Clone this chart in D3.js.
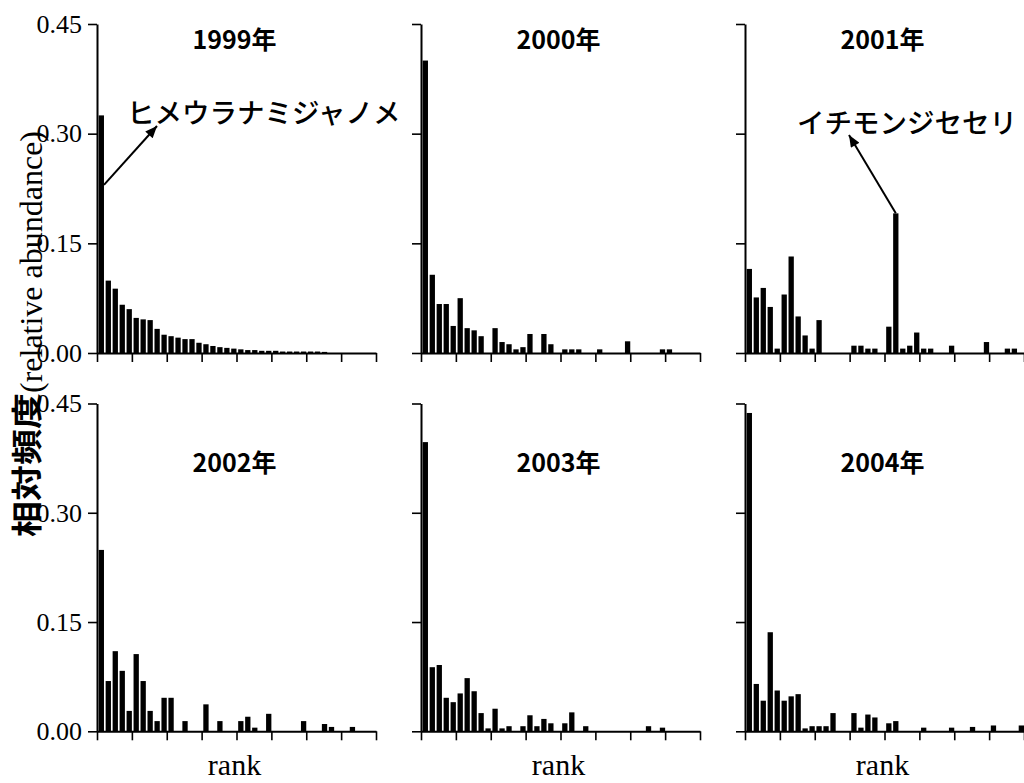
<!DOCTYPE html>
<html><head><meta charset="utf-8">
<script src="https://cdn.jsdelivr.net/npm/d3@7"></script>
<style>html,body{margin:0;padding:0;background:#fff}</style>
</head><body>
<svg id="chart" width="1024" height="783"></svg>
<script>
// ---------- data ----------
const years = ["1999年", "2000年", "2001年", "2002年", "2003年", "2004年"];
const ranks = d3.range(1, 41);
const xTickValues = [0, 5, 10, 15, 20, 25, 30, 35, 40];
const yTickValues = [0, 0.15, 0.30, 0.45];
const yTitleJa = "相対頻度";
const yTitleEn = "(relative abundance)";
const xTitle = "rank";

const v1999 = [0.325,0.099,0.088,0.066,0.060,0.048,0.046,0.045,0.033,0.025,
               0.023,0.021,0.019,0.019,0.014,0.012,0.0096,0.008,0.007,0.006,
               0.005,0.004,0.004,0.003,0.003,0.003,0.002,0.002,0.002,0.002,
               0.002,0.002,0.0015,0,0,0,0,0,0,0];
const v2000 = [0.400,0.107,0.067,0.067,0.037,0.075,0.034,0.031,0.023,0,
               0.034,0.015,0.012,0.005,0.008,0.026,0,0.026,0.012,0,
               0.005,0.005,0.005,0,0,0.005,0,0,0,0.016,
               0,0,0,0,0.005,0.005,0,0,0,0];
const v2001 = [0.115,0.076,0.089,0.063,0.006,0.080,0.132,0.050,0.024,0.006,
               0.045,0,0,0,0,0.010,0.010,0.006,0.006,0,
               0.036,0.191,0.006,0.010,0.028,0.006,0.006,0,0,0.010,
               0,0,0,0,0.015,0,0,0.006,0.006,0];
const v2002 = [0.249,0.069,0.110,0.083,0.028,0.106,0.069,0.028,0.014,0.046,
               0.046,0,0.014,0,0,0.037,0,0.014,0,0,
               0.014,0.020,0.005,0,0.024,0,0,0,0,0.014,
               0,0,0.010,0.006,0,0,0.006,0,0,0];
const v2003 = [0.397,0.088,0.091,0.046,0.040,0.052,0.073,0.055,0.025,0.004,
               0.031,0.004,0.007,0,0.007,0.022,0.007,0.017,0.011,0,
               0.011,0.026,0,0.007,0,0,0,0,0,0,
               0,0,0.007,0,0.005,0,0,0,0,0];
const v2004 = [0.437,0.065,0.042,0.136,0.056,0.042,0.048,0.051,0.004,0.007,
               0.007,0.007,0.025,0,0,0.025,0.005,0.023,0.019,0,
               0.011,0.014,0,0,0,0.005,0,0,0,0.005,
               0,0,0.006,0,0,0.008,0,0,0,0.008];
const seriesValues = [v1999, v2000, v2001, v2002, v2003, v2004];

const annotationTexts = ["ヒメウラナミジャノメ", "イチモンジセセリ"];
const annotationPanels = [0, 2];
const annotationRanks = [1, 22];
const annotationValues = [0.23, 0.191];

// ---------- layout ----------
const colX = [97, 421, 745];
const panelW = 279;
const rowTop = [24, 403.5];
const rowBottom = [353, 731.3];
const titleBaseline = [49, 472];
const annLayout = [
  {startDx: "right", tipX: 157, tipY: 126, textX: 127, textY: 123},
  {startDx: "center", tipX: 849, tipY: 135, textX: 797, textY: 133}
];

const svg = d3.select("#chart");
svg.append("rect").attr("width", 1024).attr("height", 783).attr("fill", "#fff");

const defs = svg.append("defs");
defs.append("marker").attr("id", "arrow")
  .attr("viewBox", "0 0 12 10").attr("refX", 12).attr("refY", 5)
  .attr("markerWidth", 14).attr("markerHeight", 10)
  .attr("markerUnits", "userSpaceOnUse").attr("orient", "auto")
  .append("path").attr("d", "M0,0 L12,5 L0,10 Z").attr("fill", "#000");

const serif = "'Liberation Serif', 'Times New Roman', serif";
const gothic = "'Noto Sans CJK JP', sans-serif";

const panels = [];
years.forEach((yr, i) => {
  const col = i % 3, row = Math.floor(i / 3);
  const x0 = colX[col], x1 = x0 + panelW;
  const top = rowTop[row], bottom = rowBottom[row];
  const xb = d3.scaleBand().domain(ranks).range([x0, x1])
    .paddingInner(0.24).paddingOuter(0.12).align(1);
  const xl = d3.scaleLinear().domain([0, 40]).range([x0, x1]);
  const y = d3.scaleLinear().domain([0, 0.45]).range([bottom, top]);
  panels.push({xb, xl, y});
  const g = svg.append("g");

  g.selectAll("rect.bar").data(ranks.map((r, k) => ({r, v: seriesValues[i][k]})).filter(d => d.v > 0))
    .join("rect").attr("class", "bar")
    .attr("x", d => xb(d.r)).attr("width", xb.bandwidth())
    .attr("y", d => y(d.v)).attr("height", d => bottom - y(d.v))
    .attr("fill", "#000");

  const ya = g.append("g").attr("transform", `translate(${x0},0)`)
    .call(d3.axisLeft(y).tickValues(yTickValues).tickSize(9).tickSizeOuter(0).tickPadding(6)
      .tickFormat(col === 0 ? d3.format(".2f") : () => ""));
  const xa = g.append("g").attr("transform", `translate(0,${bottom})`)
    .call(d3.axisBottom(xl).tickValues(xTickValues).tickSize(9).tickSizeOuter(0).tickFormat(() => ""));
  [ya, xa].forEach(a => {
    a.select(".domain").attr("stroke", "#000").attr("stroke-width", 2);
    a.selectAll(".tick line").attr("stroke", "#000").attr("stroke-width", 1.6);
    a.selectAll(".tick text").attr("fill", "#000")
      .attr("font-family", serif).attr("font-size", 26);
  });

  g.append("text").attr("x", (x0 + x1) / 2 - 2).attr("y", titleBaseline[row])
    .attr("text-anchor", "middle")
    .attr("font-family", gothic).attr("font-size", 25).attr("font-weight", "bold")
    .attr("fill", "#000").text(yr);

  if (row === 1) {
    g.append("text").attr("x", (x0 + x1) / 2 - 2).attr("y", 775)
      .attr("text-anchor", "middle")
      .attr("font-family", serif).attr("font-size", 30)
      .attr("fill", "#000").text(xTitle);
  }
});

// annotations
annotationTexts.forEach((t, j) => {
  const p = panels[annotationPanels[j]];
  const L = annLayout[j];
  const bx = L.startDx === "right" ? p.xb(annotationRanks[j]) + p.xb.bandwidth()
                                   : p.xb(annotationRanks[j]) + p.xb.bandwidth() / 2;
  const by = p.y(annotationValues[j]);
  svg.append("line").attr("x1", bx).attr("y1", by).attr("x2", L.tipX).attr("y2", L.tipY)
    .attr("stroke", "#000").attr("stroke-width", 2).attr("marker-end", "url(#arrow)");
  svg.append("text").attr("x", L.textX).attr("y", L.textY)
    .attr("font-family", gothic).attr("font-size", 27.5).attr("font-weight", 500)
    .attr("fill", "#000").text(t);
});

// y axis title (rotated, reading bottom to top)
svg.append("text").attr("transform", "translate(38,537) rotate(-90)")
  .attr("font-family", gothic).attr("font-weight", "bold").attr("font-size", 31)
  .attr("textLength", 144).attr("lengthAdjust", "spacingAndGlyphs")
  .attr("fill", "#000").text(yTitleJa);
svg.append("text").attr("transform", "translate(42,393) rotate(-90)")
  .attr("font-family", serif).attr("font-size", 32)
  .attr("textLength", 262).attr("lengthAdjust", "spacingAndGlyphs")
  .attr("fill", "#000").text(yTitleEn);
</script>
</body></html>
